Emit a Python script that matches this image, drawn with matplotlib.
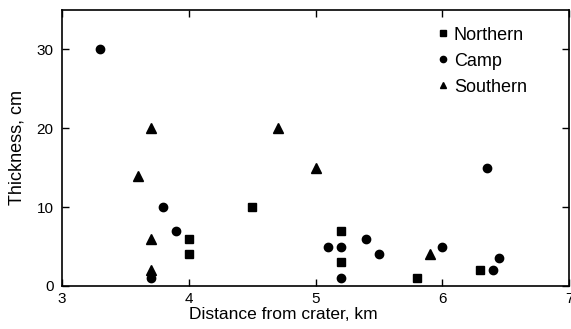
import matplotlib
matplotlib.use("Agg")
import matplotlib.pyplot as plt

plt.rcParams['font.family'] = ['Liberation Sans', 'DejaVu Sans']

# distance from crater (km) and thickness (cm) per site group
northern_x = [4.0, 4.0, 4.5, 5.2, 5.2, 5.8, 6.3]
northern_y = [6, 4, 10, 7, 3, 1, 2]
camp_x = [3.3, 3.8, 3.9, 3.7, 5.1, 5.2, 5.2, 5.4, 5.5, 6.0, 6.35, 6.4, 6.45]
camp_y = [30, 10, 7, 1, 5, 5, 1, 6, 4, 5, 15, 2, 3.5]
southern_x = [3.7, 3.6, 3.7, 3.7, 4.7, 5.0, 5.9]
southern_y = [20, 14, 6, 2, 20, 15, 4]

fig = plt.figure(figsize=(5.71, 3.29), dpi=100)
ax = fig.add_axes([0.1086, 0.1307, 0.888, 0.839])

ax.plot(northern_x, northern_y, 's', color='black', markersize=5.5, label='Northern')
ax.plot(camp_x, camp_y, 'o', color='black', markersize=6, label='Camp')
ax.plot(southern_x, southern_y, '^', color='black', markersize=6.5, label='Southern')

ax.set_xlim(3, 7)
ax.set_ylim(0, 35)
ax.set_xticks([3, 4, 5, 6, 7])
ax.set_yticks([0, 10, 20, 30])
ax.tick_params(direction='in', top=True, right=True, labelsize=11, length=5, width=1)
ax.tick_params(axis='x', pad=4)
ax.tick_params(axis='y', pad=6)
for s in ax.spines.values():
    s.set_linewidth(1.2)

ax.set_xlabel('Distance from crater, km', fontsize=12.5, labelpad=0)
ax.xaxis.set_label_coords(0.436, -0.077, transform=ax.transAxes)
ax.xaxis.label.set_va('top')
ax.set_ylabel('Thickness, cm', fontsize=13, labelpad=8)

ax.legend(loc='upper left', bbox_to_anchor=(0.705, 0.985), frameon=False, fontsize=13,
          markerscale=0.75, handletextpad=0.0, handlelength=1.2, labelspacing=0.5, borderaxespad=0.3)

fig.savefig('out.png', dpi=100)
